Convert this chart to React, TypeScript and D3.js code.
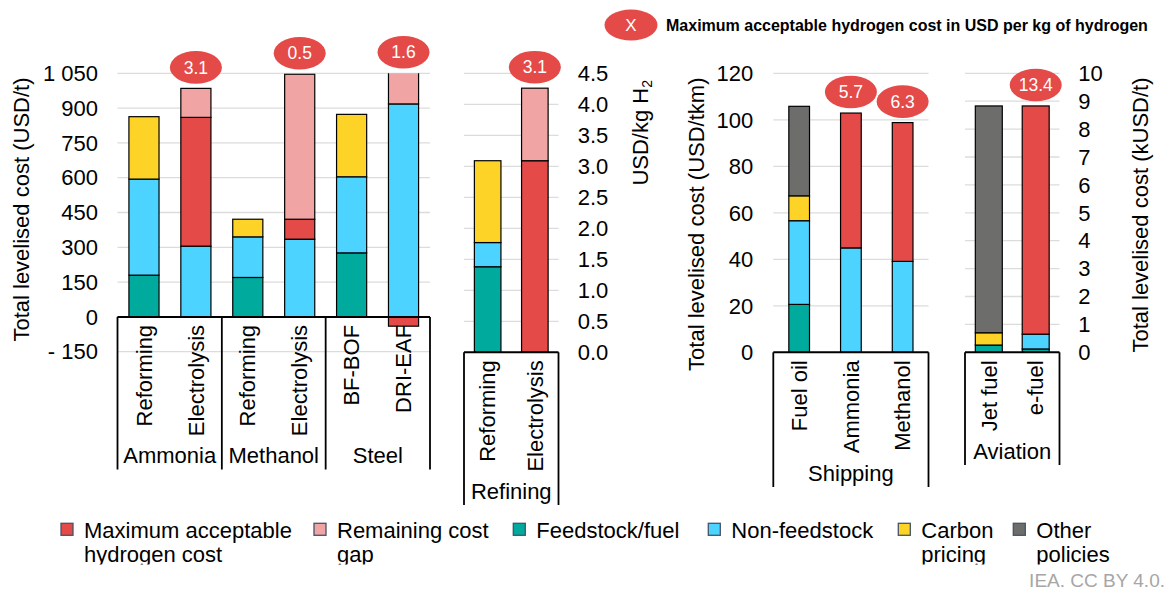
import React, { useEffect, useRef } from 'react';
import * as d3 from 'd3';

const FONT = '"Liberation Sans", Arial, sans-serif';
const WIDTH = 1169;
const HEIGHT = 590;

// series, bottom to top in every stack
const seriesKeys = ['feed', 'nonFeed', 'carbon', 'other', 'maxH2', 'gap'];
const seriesColors: Record<string, string> = {
  maxH2: '#e34a48',
  gap: '#f0a4a3',
  feed: '#00aa9c',
  nonFeed: '#4cd3ff',
  carbon: '#fdd327',
  other: '#6d6e6c',
};

const legendKeys = ['maxH2', 'gap', 'feed', 'nonFeed', 'carbon', 'other'];
const legendLabels = [
  ['Maximum acceptable', 'hydrogen cost'],
  ['Remaining cost', 'gap'],
  ['Feedstock/fuel'],
  ['Non-feedstock'],
  ['Carbon', 'pricing'],
  ['Other', 'policies'],
];

// Industry, USD/t
const industryCategories = ['Reforming', 'Electrolysis', 'Reforming', 'Electrolysis', 'BF-BOF', 'DRI-EAF'];
const industryGroups = ['Ammonia', 'Methanol', 'Steel'];
const industryGroupSizes = [2, 2, 2];
const industryFeed = [180, 0, 170, 0, 276, 0];
const industryNonFeed = [414, 305, 175, 335, 328, 918];
const industryCarbon = [269, 0, 76, 0, 269, 0];
const industryOther = [0, 0, 0, 0, 0, 0];
const industryMaxH2 = [0, 555, 0, 86, 0, -40];
const industryGap = [0, 125, 0, 625, 0, 160];
const industryBubbles = ['', '3.1', '', '0.5', '', '1.6'];
const industryTicks = [-150, 0, 150, 300, 450, 600, 750, 900, 1050];

// Refining, USD/kg H2
const refiningCategories = ['Reforming', 'Electrolysis'];
const refiningGroups = ['Refining'];
const refiningGroupSizes = [2];
const refiningFeed = [1.38, 0];
const refiningNonFeed = [0.39, 0];
const refiningCarbon = [1.32, 0];
const refiningOther = [0, 0];
const refiningMaxH2 = [0, 3.09];
const refiningGap = [0, 1.17];
const refiningBubbles = ['', '3.1'];
const refiningTicks = [0, 0.5, 1, 1.5, 2, 2.5, 3, 3.5, 4, 4.5];

// Shipping, USD/tkm
const shippingCategories = ['Fuel oil', 'Ammonia', 'Methanol'];
const shippingGroups = ['Shipping'];
const shippingGroupSizes = [3];
const shippingFeed = [20.6, 0, 0];
const shippingNonFeed = [36, 44.9, 39.1];
const shippingCarbon = [10.7, 0, 0];
const shippingOther = [38.5, 0, 0];
const shippingMaxH2 = [0, 58, 59.7];
const shippingGap = [0, 0, 0];
const shippingBubbles = ['', '5.7', '6.3'];
const shippingTicks = [0, 20, 40, 60, 80, 100, 120];

// Aviation, kUSD/t
const aviationCategories = ['Jet fuel', 'e-fuel'];
const aviationGroups = ['Aviation'];
const aviationGroupSizes = [2];
const aviationFeed = [0.26, 0.12];
const aviationNonFeed = [0, 0.53];
const aviationCarbon = [0.44, 0];
const aviationOther = [8.13, 0];
const aviationMaxH2 = [0, 8.18];
const aviationGap = [0, 0];
const aviationBubbles = ['', '13.4'];
const aviationTicks = [0, 1, 2, 3, 4, 5, 6, 7, 8, 9, 10];

const spaceFormat = d3.formatLocale({ decimal: '.', thousands: ' ', grouping: [3], currency: ['', ''] }).format(',');

const PLOT_TOP = 73.3;

const panels = [
  {
    id: 'industry', categories: industryCategories, groups: industryGroups, groupSizes: industryGroupSizes,
    series: { feed: industryFeed, nonFeed: industryNonFeed, carbon: industryCarbon, other: industryOther, maxH2: industryMaxH2, gap: industryGap },
    bubbles: industryBubbles, ticks: industryTicks, domain: [-150, 1050],
    fmt: (d: number) => (d < 0 ? `- ${spaceFormat(-d)}` : spaceFormat(d)),
    x0: 117.5, x1: 430, yBottom: 351.7, pIn: 0.42, pOut: 0.22, frameBottom: 469.5,
    side: 'left', tickX: 98, title: 'Total levelised cost (USD/t)', titleX: 21.7,
  },
  {
    id: 'refining', categories: refiningCategories, groups: refiningGroups, groupSizes: refiningGroupSizes,
    series: { feed: refiningFeed, nonFeed: refiningNonFeed, carbon: refiningCarbon, other: refiningOther, maxH2: refiningMaxH2, gap: refiningGap },
    bubbles: refiningBubbles, ticks: refiningTicks, domain: [0, 4.5],
    fmt: d3.format('.1f'),
    x0: 464, x1: 558.5, yBottom: 352.3, pIn: 0.437, pOut: 0.22, frameBottom: 505,
    side: 'right', tickX: 577.7, title: 'USD/kg H', titleX: 640,
  },
  {
    id: 'shipping', categories: shippingCategories, groups: shippingGroups, groupSizes: shippingGroupSizes,
    series: { feed: shippingFeed, nonFeed: shippingNonFeed, carbon: shippingCarbon, other: shippingOther, maxH2: shippingMaxH2, gap: shippingGap },
    bubbles: shippingBubbles, ticks: shippingTicks, domain: [0, 120],
    fmt: d3.format('d'),
    x0: 773.3, x1: 928.5, yBottom: 352.3, pIn: 0.6, pOut: 0.3, frameBottom: 487,
    side: 'left', tickX: 753.3, title: 'Total levelised cost (USD/tkm)', titleX: 696.7,
  },
  {
    id: 'aviation', categories: aviationCategories, groups: aviationGroups, groupSizes: aviationGroupSizes,
    series: { feed: aviationFeed, nonFeed: aviationNonFeed, carbon: aviationCarbon, other: aviationOther, maxH2: aviationMaxH2, gap: aviationGap },
    bubbles: aviationBubbles, ticks: aviationTicks, domain: [0, 10],
    fmt: d3.format('d'),
    x0: 965, x1: 1059.5, yBottom: 352.3, pIn: 0.425, pOut: 0.22, frameBottom: 465,
    side: 'right', tickX: 1078.3, title: 'Total levelised cost (kUSD/t)', titleX: 1140,
  },
];

const legendSquareX = [61, 314, 513.3, 708.3, 898.3, 1013.3];

export default function App() {
  const svgRef = useRef<SVGSVGElement>(null);

  useEffect(() => {
    if (!svgRef.current) return;
    const svg = d3.select(svgRef.current);
    svg.selectAll('*').remove();
    svg.attr('font-family', FONT);

    const defs = svg.append('defs');

    panels.forEach((p) => {
      const y = d3.scaleLinear().domain(p.domain).range([p.yBottom, PLOT_TOP]);
      const x = d3.scaleBand<number>()
        .domain(p.categories.map((_, i) => i))
        .range([p.x0, p.x1])
        .paddingInner(p.pIn)
        .paddingOuter(p.pOut);

      const g = svg.append('g').attr('class', p.id);

      // gridlines
      g.append('g')
        .selectAll('line')
        .data(p.ticks)
        .enter().append('line')
        .attr('x1', p.x0)
        .attr('x2', p.x1)
        .attr('y1', (d) => y(d))
        .attr('y2', (d) => y(d))
        .attr('stroke', '#dcdcdc')
        .attr('stroke-width', 1.3);

      // tick labels
      g.append('g')
        .selectAll('text')
        .data(p.ticks)
        .enter().append('text')
        .attr('x', p.tickX)
        .attr('y', (d) => y(d))
        .attr('dy', '0.35em')
        .attr('text-anchor', p.side === 'left' ? 'end' : 'start')
        .attr('font-size', 22)
        .attr('fill', '#000')
        .text((d) => p.fmt(d));

      // axis title
      const title = g.append('text')
        .attr('transform', `translate(${p.titleX},77.5) rotate(-90)`)
        .attr('dy', '0.35em')
        .attr('text-anchor', 'end')
        .attr('font-size', 22)
        .attr('fill', '#000')
        .text(p.title);
      if (p.id === 'refining') {
        title.attr('transform', `translate(${p.titleX},80) rotate(-90)`);
        title.append('tspan').attr('font-size', 14).attr('dy', '0.3em').text('2');
      }

      // stacked bars
      const rows = p.categories.map((_, i) => {
        const r: Record<string, number> = { idx: i };
        seriesKeys.forEach((k) => { r[k] = (p.series as any)[k][i]; });
        return r;
      });
      const stacked = d3.stack<Record<string, number>>()
        .keys(seriesKeys)
        .offset(d3.stackOffsetDiverging)(rows);

      const clipId = `clip-${p.id}`;
      defs.append('clipPath').attr('id', clipId)
        .append('rect')
        .attr('x', p.x0 - 5).attr('y', PLOT_TOP)
        .attr('width', p.x1 - p.x0 + 10).attr('height', 400);

      const bars = g.append('g').attr('clip-path', `url(#${clipId})`);
      stacked.forEach((layer) => {
        bars.append('g')
          .selectAll('rect')
          .data(layer.filter((d) => d[1] !== d[0]))
          .enter().append('rect')
          .attr('x', (d) => x(d.data.idx) as number)
          .attr('width', x.bandwidth())
          .attr('y', (d) => y(Math.max(d[0], d[1])))
          .attr('height', (d) => Math.abs(y(d[0]) - y(d[1])))
          .attr('fill', seriesColors[layer.key])
          .attr('stroke', '#000')
          .attr('stroke-width', 1.2);
      });

      // category frame
      const frame = g.append('g');
      frame.append('line')
        .attr('x1', p.x0).attr('x2', p.x1)
        .attr('y1', y(0)).attr('y2', y(0))
        .attr('stroke', '#000').attr('stroke-width', 2);

      const step = x.step();
      const edges: number[] = [p.x0];
      let start = 0;
      const groupSpans: [number, number][] = [];
      p.groupSizes.forEach((n, gi) => {
        const end = start + n;
        const right = gi === p.groupSizes.length - 1
          ? p.x1
          : (x(end) as number) - (step * p.pIn) / 2;
        groupSpans.push([edges[edges.length - 1], right]);
        edges.push(right);
        start = end;
      });
      frame.selectAll('line.sep')
        .data(edges)
        .enter().append('line')
        .attr('class', 'sep')
        .attr('x1', (d) => d).attr('x2', (d) => d)
        .attr('y1', y(0)).attr('y2', p.frameBottom)
        .attr('stroke', '#000').attr('stroke-width', 1.8);

      // category labels
      g.append('g')
        .selectAll('text')
        .data(p.categories)
        .enter().append('text')
        .attr('transform', (_, i) => `translate(${(x(i) as number) + x.bandwidth() / 2},${y(0) + 8}) rotate(-90)`)
        .attr('dy', '0.35em')
        .attr('text-anchor', 'end')
        .attr('font-size', 22)
        .attr('fill', '#000')
        .text((d) => d);

      // group labels
      g.append('g')
        .selectAll('text')
        .data(p.groups)
        .enter().append('text')
        .attr('x', (_, i) => (groupSpans[i][0] + groupSpans[i][1]) / 2)
        .attr('y', p.frameBottom - 6.5)
        .attr('text-anchor', 'middle')
        .attr('font-size', 22)
        .attr('fill', '#000')
        .text((d) => d);

      // bubbles with maximum acceptable hydrogen cost
      const totals = rows.map((r) => d3.sum(seriesKeys, (k) => Math.max(0, r[k])));
      const bub = g.append('g')
        .selectAll('g')
        .data(p.bubbles.map((b, i) => ({ b, i })).filter((d) => d.b !== ''))
        .enter().append('g')
        .attr('transform', (d) => `translate(${(x(d.i) as number) + x.bandwidth() / 2},${Math.max(y(totals[d.i]), PLOT_TOP) - 21})`);
      bub.append('ellipse')
        .attr('rx', 26).attr('ry', 16.3)
        .attr('fill', seriesColors.maxH2);
      bub.append('text')
        .attr('dy', '0.35em')
        .attr('text-anchor', 'middle')
        .attr('font-size', 17.5)
        .attr('fill', '#fff')
        .text((d) => d.b);
    });

    // top key for bubbles
    const key = svg.append('g').attr('transform', 'translate(631,25)');
    key.append('ellipse').attr('rx', 26.5).attr('ry', 15.5).attr('fill', seriesColors.maxH2);
    key.append('text').attr('dy', '0.35em').attr('text-anchor', 'middle')
      .attr('font-size', 17).attr('fill', '#fff').text('X');
    key.append('text').attr('x', 35).attr('dy', '0.35em')
      .attr('font-size', 16).attr('font-weight', 'bold').attr('fill', '#000')
      .text('Maximum acceptable hydrogen cost in USD per kg of hydrogen');

    // legend
    defs.append('clipPath').attr('id', 'legend-clip')
      .append('rect').attr('x', 0).attr('y', 500).attr('width', WIDTH).attr('height', 64.5);
    const legend = svg.append('g').attr('clip-path', 'url(#legend-clip)');
    legendKeys.forEach((k, i) => {
      const lg = legend.append('g').attr('transform', `translate(${legendSquareX[i]},0)`);
      lg.append('rect')
        .attr('x', 0).attr('y', 523.3)
        .attr('width', 12).attr('height', 12)
        .attr('fill', seriesColors[k])
        .attr('stroke', '#44546a').attr('stroke-width', 1.3);
      lg.append('g')
        .selectAll('text')
        .data(legendLabels[i])
        .enter().append('text')
        .attr('x', 23)
        .attr('y', (_, j) => 538.3 + j * 23.5)
        .attr('font-size', 22)
        .attr('fill', '#000')
        .text((d) => d);
    });

    svg.append('text')
      .attr('x', 1165).attr('y', 586.5)
      .attr('text-anchor', 'end')
      .attr('font-size', 19)
      .attr('fill', '#a6a6a6')
      .text('IEA. CC BY 4.0.');
  }, []);

  return (
    <svg
      ref={svgRef}
      width={WIDTH}
      height={HEIGHT}
      style={{ position: 'absolute', left: 0, top: 0, background: '#fff' }}
    />
  );
}
